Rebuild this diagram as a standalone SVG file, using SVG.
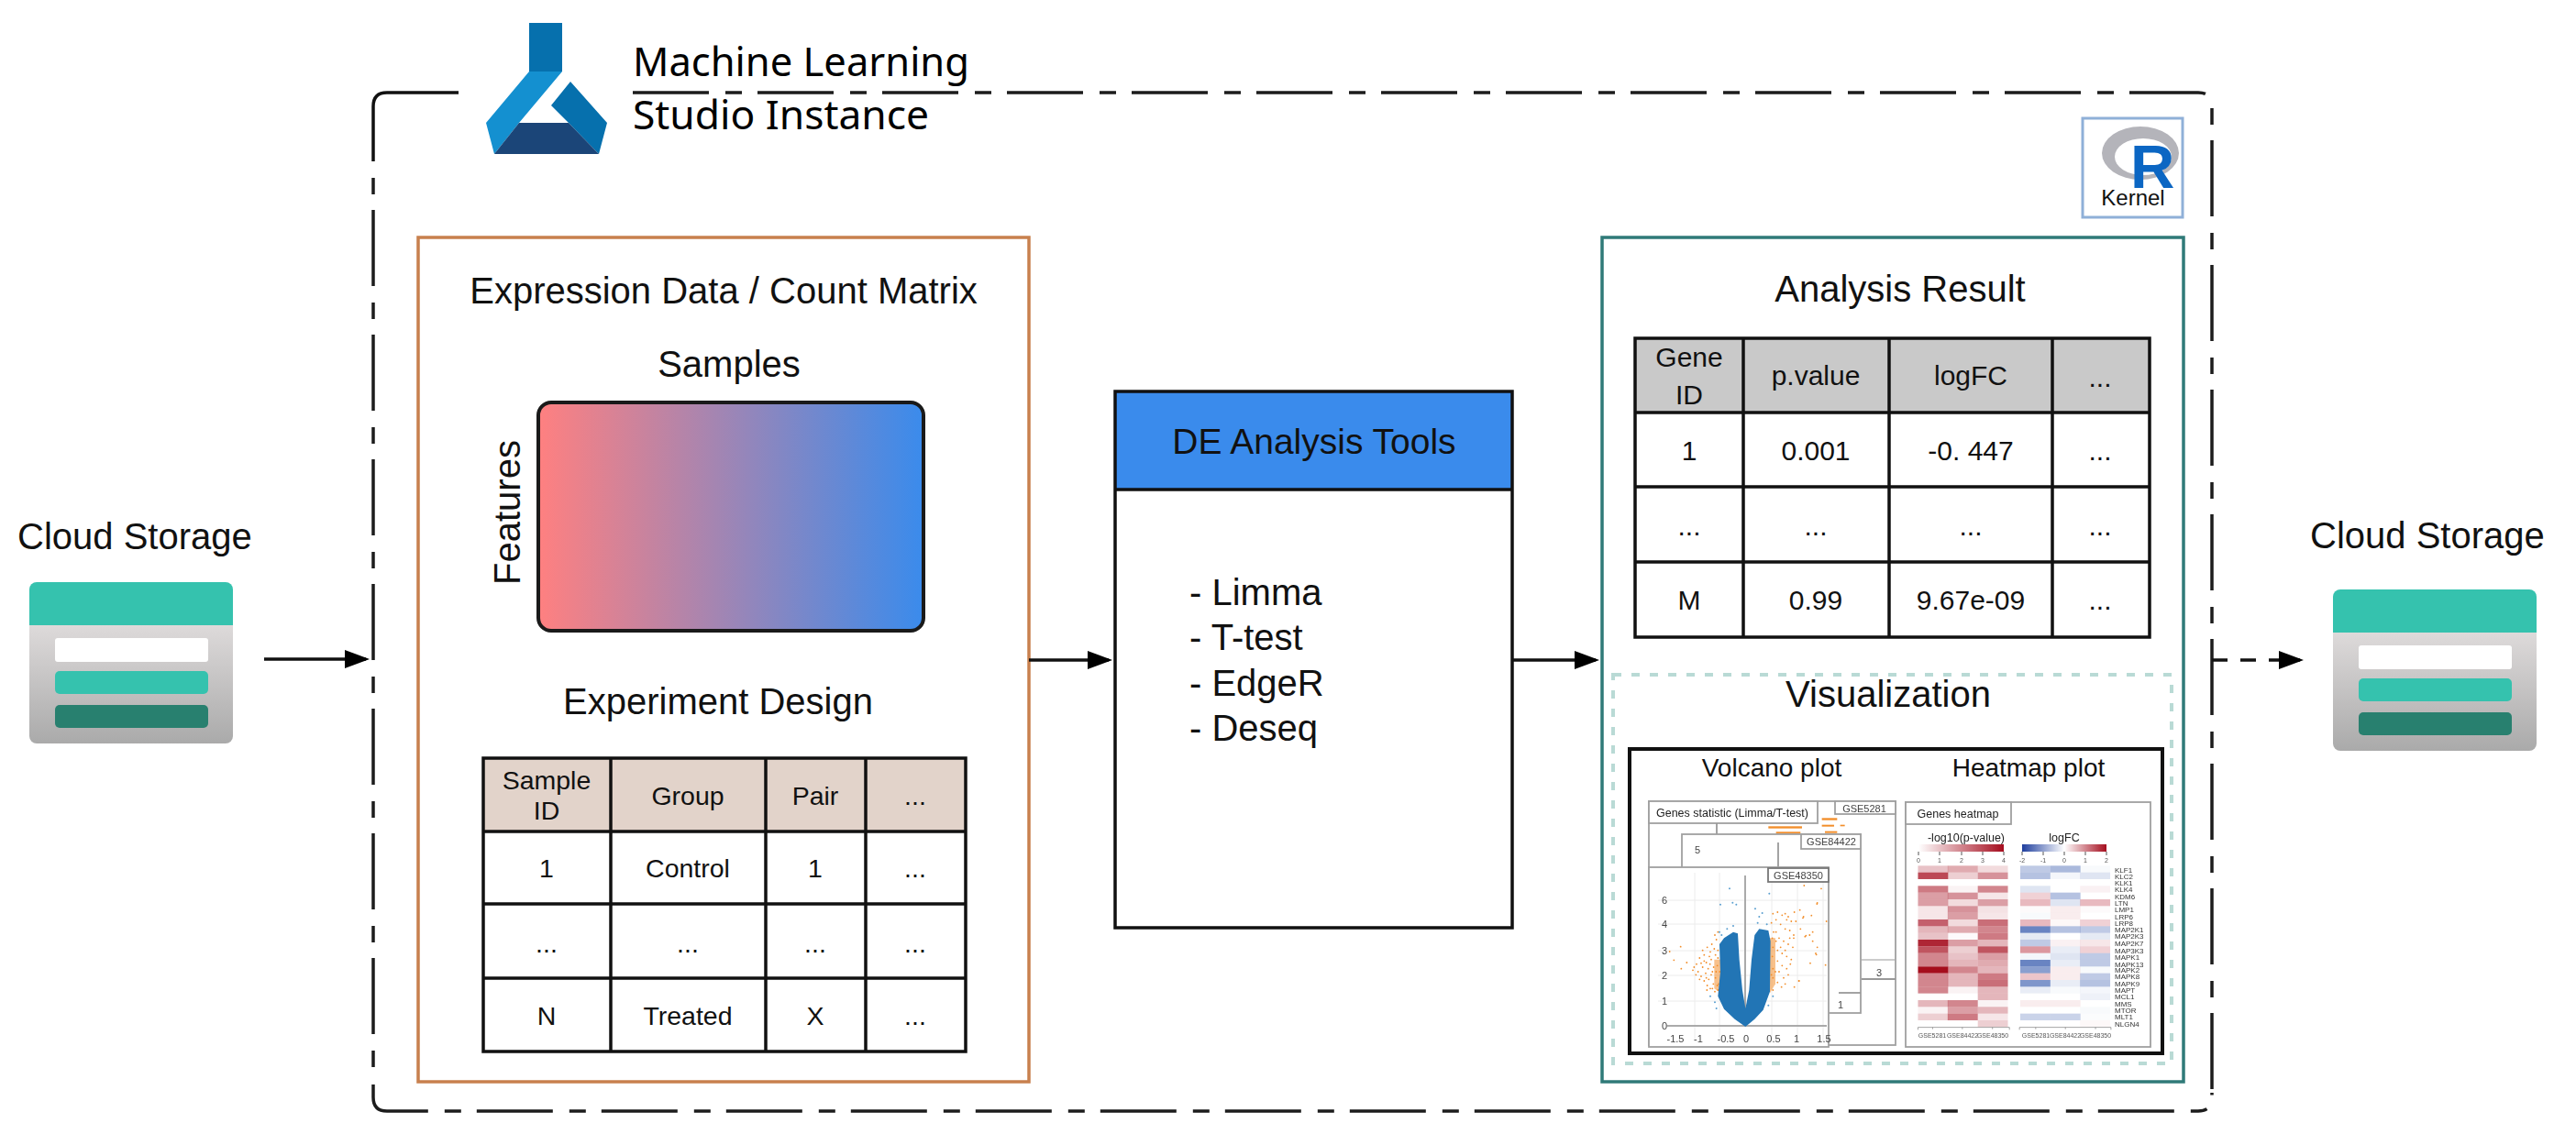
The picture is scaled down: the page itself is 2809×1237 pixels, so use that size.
<svg xmlns="http://www.w3.org/2000/svg" width="2809" height="1237" viewBox="0 0 2809 1237">
<style>
text{font-family:"Liberation Sans",Arial,sans-serif;fill:#111}
.h{font-size:40px}.c{text-anchor:middle}
.ml{font-family:"Noto Sans","Liberation Sans",sans-serif;font-size:43px;fill:#000}
.t1{font-size:28.5px;text-anchor:middle}.t2{font-size:30px;text-anchor:middle}
.g{stroke:#111;stroke-width:3.5;fill:none}
.dash{fill:none;stroke:#1c1c1c;stroke-width:3.5;stroke-dasharray:83 18 18 17}
.arr{stroke:#111;stroke-width:3.5;fill:none;marker-end:url(#ah)}
.pn{fill:#fff;stroke:#a0a0a0;stroke-width:1.8}
.s{font-size:11px;fill:#444;text-anchor:middle}
.tb{font-size:12.5px;fill:#222;text-anchor:middle}
.sm{font-size:7px;fill:#555;text-anchor:middle}
.lb{font-size:8px;fill:#333}
.hm rect{width:78px;height:22px}
.grid{stroke:#ececec;stroke-width:1}
.od{stroke:#f28e2b;stroke-width:5.5;stroke-linecap:round;fill:none}
</style>
<defs>
<marker id="ah" markerUnits="userSpaceOnUse" markerWidth="28" markerHeight="22" viewBox="0 0 28 22" refX="23" refY="11" orient="auto"><polygon points="0,1 27,11 0,21" fill="#000"/></marker>
<linearGradient id="grad"><stop offset="0" stop-color="#ff8080"/><stop offset="1" stop-color="#3a8bec"/></linearGradient>
<linearGradient id="body" x1="0" y1="0" x2="0" y2="1"><stop offset="0" stop-color="#eae6e6"/><stop offset="1" stop-color="#aaaaaa"/></linearGradient>
<linearGradient id="cb1"><stop offset="0" stop-color="#fff"/><stop offset="1" stop-color="#a50d1e"/></linearGradient>
<linearGradient id="cb2"><stop offset="0" stop-color="#1f3f9e"/><stop offset=".5" stop-color="#fff"/><stop offset="1" stop-color="#a50d1e"/></linearGradient>
<filter id="soft" x="-2%" y="-2%" width="104%" height="104%"><feGaussianBlur stdDeviation="0.7"/></filter>
<g id="store">
<rect x="32" y="650" width="222" height="161" rx="8" fill="url(#body)"/>
<path d="M32 682V643a8 8 0 0 1 8-8H246a8 8 0 0 1 8 8V682Z" fill="#35c2ae"/>
<rect x="60" y="696" width="167" height="26" rx="3" fill="#fff"/>
<rect x="60" y="732" width="167" height="25" rx="5" fill="#35c2ae"/>
<rect x="60" y="769" width="167" height="25" rx="5" fill="#28806f"/>
</g>
</defs>
<rect width="2809" height="1237" fill="#fff"/>

<g id="instance-frame">
<path class="g" d="M500 101H422Q407 101 407 116V176"/>
<path class="dash" d="M690 101H2397Q2412 101 2412 116"/>
<path class="dash" stroke-dashoffset="101" d="M2412 118V1190"/>
<path class="dash" stroke-dashoffset="101" d="M407 194V1165"/>
<path class="dash" d="M407 1183V1197Q407 1212 422 1212H2397Q2412 1212 2412 1197V1192"/>
</g>

<g id="ml-studio">
<polygon points="577,25 613,25 613,78 577,78" fill="#0670ad"/>
<polygon points="577,78 613,78 566,134 539,168 530,134" fill="#1490d0"/>
<polygon points="622,89 662,134 653,168 620,134 601,115" fill="#0670ad"/>
<polygon points="566,134 620,134 653,168 539,168" fill="#1b4578"/>
<text class="ml" x="690" y="83" textLength="367" lengthAdjust="spacingAndGlyphs">Machine Learning</text>
<text class="ml" x="690" y="141" textLength="323" lengthAdjust="spacingAndGlyphs">Studio Instance</text>
</g>

<g id="r-kernel">
<rect x="2271" y="129" width="109" height="108" fill="#fff" stroke="#8fb0d8" stroke-width="3"/>
<path fill-rule="evenodd" fill="#b4b4ba" d="M2292 167a42 29 0 1 0 84 0a42 29 0 1 0-84 0ZM2306 171a31 20 0 1 0 62 0a31 20 0 1 0-62 0Z"/>
<text x="2323" y="205" font-size="67" font-weight="700" style="fill:#0b66c3">R</text>
<text x="2326" y="224" font-size="24" class="c">Kernel</text>
</g>

<g id="storage-in">
<text class="h" x="19" y="599">Cloud Storage</text>
<use href="#store"/>
</g>
<g id="storage-out">
<text class="h" x="2519" y="598">Cloud Storage</text>
<use href="#store" x="2512" y="8"/>
</g>

<g id="expression-data">
<rect x="456" y="259" width="666" height="921" fill="#fff" stroke="#c8804e" stroke-width="3.5"/>
<text class="h c" x="789" y="331">Expression Data / Count Matrix</text>
<text class="h c" x="795" y="411">Samples</text>
<rect x="587" y="439" width="420" height="249" rx="14" fill="url(#grad)" stroke="#1a1a1a" stroke-width="4"/>
<text class="h c" transform="translate(567 559) rotate(-90)">Features</text>
<text class="h c" x="783" y="779">Experiment Design</text>
<rect x="527" y="827" width="526" height="80" fill="#e2d3ca"/>
<path class="g" d="M527 827H1053V1147H527ZM527 907H1053M527 986H1053M527 1067H1053M666 827V1147M835 827V1147M944 827V1147"/>
<text class="t1" x="596" y="861">Sample</text><text class="t1" x="596" y="894">ID</text>
<text class="t1" x="750" y="878">Group</text><text class="t1" x="889" y="878">Pair</text><text class="t1" x="998" y="878">...</text>
<text class="t1" x="596" y="957">1</text><text class="t1" x="750" y="957">Control</text><text class="t1" x="889" y="957">1</text><text class="t1" x="998" y="957">...</text>
<text class="t1" x="596" y="1039">...</text><text class="t1" x="750" y="1039">...</text><text class="t1" x="889" y="1039">...</text><text class="t1" x="998" y="1039">...</text>
<text class="t1" x="596" y="1118">N</text><text class="t1" x="750" y="1118">Treated</text><text class="t1" x="889" y="1118">X</text><text class="t1" x="998" y="1118">...</text>
</g>

<g id="de-tools">
<rect x="1216" y="427" width="433" height="585" fill="#fff"/>
<rect x="1216" y="427" width="433" height="107" fill="#3a8bec"/>
<path class="g" d="M1216 427H1649V1012H1216ZM1216 534H1649"/>
<text x="1433" y="495" font-size="39" class="c">DE Analysis Tools</text>
<text class="h" x="1297" y="660">- Limma</text>
<text class="h" x="1297" y="709">- T-test</text>
<text class="h" x="1297" y="759">- EdgeR</text>
<text class="h" x="1297" y="808">- Deseq</text>
</g>

<g id="analysis-result">
<rect x="1747" y="259" width="634" height="921" fill="#fff" stroke="#2f7a78" stroke-width="3.5"/>
<text class="h c" x="2072" y="329">Analysis Result</text>
<rect x="1783" y="369" width="561" height="81" fill="#c9c9c9"/>
<path class="g" d="M1783 369H2344V695H1783ZM1783 450H2344M1783 531H2344M1783 613H2344M1901 369V695M2060 369V695M2238 369V695"/>
<text class="t2" x="1842" y="400">Gene</text><text class="t2" x="1842" y="441">ID</text>
<text class="t2" x="1980" y="420">p.value</text><text class="t2" x="2149" y="420">logFC</text><text class="t2" x="2290" y="422">...</text>
<text class="t2" x="1842" y="502">1</text><text class="t2" x="1980" y="502">0.001</text><text class="t2" x="2149" y="502">-0. 447</text><text class="t2" x="2290" y="502">...</text>
<text class="t2" x="1842" y="584">...</text><text class="t2" x="1980" y="584">...</text><text class="t2" x="2149" y="584">...</text><text class="t2" x="2290" y="584">...</text>
<text class="t2" x="1842" y="665">M</text><text class="t2" x="1980" y="665">0.99</text><text class="t2" x="2149" y="665">9.67e-09</text><text class="t2" x="2290" y="665">...</text>
</g>

<g id="visualization">
<rect x="1759" y="736" width="609" height="424" fill="none" stroke="#b9dad5" stroke-width="4" stroke-dasharray="9 11"/>
<text class="h c" x="2059" y="771">Visualization</text>
<rect x="1777" y="817" width="581" height="332" fill="#fff" stroke="#111" stroke-width="4"/>
<text x="1932" y="847" font-size="28" class="c">Volcano plot</text>
<text x="2212" y="847" font-size="28" class="c">Heatmap plot</text>
<g id="volcano-plot" filter="url(#soft)">
<rect class="pn" x="1798" y="874" width="269" height="266"/>
<rect class="pn" x="2001" y="874" width="66" height="14"/>
<text class="s" x="2033" y="886">GSE5281</text>
<path d="M2030 1047H2066" stroke="#bbb" stroke-width="1.5"/>
<path d="M2030 1068H2067" stroke="#999" stroke-width="1.8"/>
<text class="s" x="2049" y="1065">3</text>
<g transform="translate(1790 860) scale(.3333)" fill="#f28e2b">
<rect x="590" y="97" width="50" height="7"/><rect x="590" y="119" width="40" height="6"/><rect x="650" y="119" width="15" height="5"/>
<rect x="415" y="124" width="110" height="7"/><rect x="440" y="142" width="80" height="6"/><rect x="600" y="140" width="40" height="6"/>
</g>
<rect class="pn" x="1798" y="874" width="184" height="24"/>
<text class="tb" x="1889" y="891">Genes statistic (Limma/T-test)</text>
<path d="M1872 898V910" stroke="#999" stroke-width="1.8"/>
<rect class="pn" x="1834" y="910" width="195" height="195"/>
<rect class="pn" x="1964" y="910" width="65" height="16"/>
<text class="s" x="1997" y="922">GSE84422</text>
<path d="M2005 1083H2029" stroke="#999" stroke-width="1.8"/>
<text class="s" x="2007" y="1100">1</text>
<text class="s" x="1851" y="931">5</text>
<path d="M1939 919V946" stroke="#999" stroke-width="1.8"/>
<rect class="pn" x="1798" y="946" width="196" height="196"/>
<path class="grid" d="M1848 952V1136M1875 952V1136M1932 952V1136M1960 952V1136M1988 952V1136M1808 982H1992M1808 1008H1992M1808 1037H1992M1808 1064H1992M1808 1092H1992"/>
<rect x="1928" y="947" width="66" height="15" fill="#fff" stroke="#777" stroke-width="1.8"/>
<text class="s" x="1961" y="959">GSE48350</text>
<path d="M1903 955V1120M1818 1119H1992" stroke="#aaa" stroke-width="2" fill="none"/>
<g transform="translate(1790 860) scale(.3333)">
<path class="od" d="M200 530h0M215 520h0M230 510h0M245 495h0M250 470h0M240 480h0M225 535h0M205 545h0M190 555h0M180 575h0M172 585h0M185 600h0M195 615h0M205 630h0M215 645h0M225 655h0M240 665h0M250 660h0M235 640h0M220 625h0M210 605h0M200 585h0M212 570h0M228 560h0M242 545h0M250 530h0M238 525h0M222 550h0M195 572h0M178 610h0M248 580h0M232 600h0M218 590h0M205 565h0M242 620h0M252 640h0M228 610h0M244 600h0M236 585h0M224 575h0M212 620h0M250 555h0M256 600h0M248 645h0M232 655h0M214 660h0M190 625h0M168 595h0"/>
<path class="od" d="M430 410h0M445 405h0M460 415h0M475 430h0M490 435h0M440 430h0M425 440h0M455 445h0M470 460h0M485 465h0M498 480h0M440 470h0M428 490h0M450 490h0M465 500h0M480 510h0M495 520h0M430 520h0M445 530h0M460 540h0M475 550h0M490 560h0M428 550h0M445 565h0M460 580h0M475 590h0M480 610h0M430 590h0M450 600h0M465 620h0M430 620h0M445 635h0M458 650h0M430 660h0M440 500h0M455 520h0M470 530h0M485 490h0M432 470h0M438 600h0M425 610h0M470 640h0M487 575h0M505 435h0M530 420h0M520 460h0M550 480h0M560 500h0M575 520h0M515 630h0M535 485h0M570 540h0M560 470h0M480 420h0M500 405h0M470 410h0"/>
<path d="M238 560H260V670L238 655Z" fill="#f28e2b" opacity=".55"/>
<path d="M418 490H438V640L420 670Z" fill="#f28e2b" opacity=".55"/>
<path class="od" d="M128 518h0M92 534h0M148 570h0M130 590h0M106 562h0M574 378h0M518 398h0M556 416h0M528 424h0M588 328h0M532 318h0M498 490h0M538 482h0M572 544h0M552 572h0M602 578h0M515 630h0M500 650h0M605 435h0M575 375h0"/>
<path d="M340 780L305 755 270 722 250 680 258 600 255 510 270 490 300 470 315 475 320 560 330 660 340 720 352 660 360 560 370 480 385 460 415 465 422 500 420 665 398 725 370 755Z" fill="#2275b5"/>
<path d="M288 328h0M258 380h0M298 374h0M310 380h0M418 344h0M372 394h0M395 408h0M385 420h0M255 470h0M262 480h0M280 460h0M300 450h0M380 440h0M410 445h0M240 700h0M225 680h0M245 720h0M430 680h0M415 710h0" stroke="#5a9fd0" stroke-width="6" stroke-linecap="round" fill="none"/>
</g>
<g class="s"><text class="s" x="1815" y="986">6</text><text class="s" x="1815" y="1012">4</text><text class="s" x="1815" y="1041">3</text><text class="s" x="1815" y="1068">2</text><text class="s" x="1815" y="1096">1</text><text class="s" x="1815" y="1123">0</text>
<text class="s" x="1827" y="1137">-1.5</text><text class="s" x="1852" y="1137">-1</text><text class="s" x="1882" y="1137">-0.5</text><text class="s" x="1904" y="1137">0</text><text class="s" x="1934" y="1137">0.5</text><text class="s" x="1959" y="1137">1</text><text class="s" x="1989" y="1137">1.5</text></g>
</g>
<g id="heatmap-plot" filter="url(#soft)">
<rect class="pn" x="2078" y="875" width="267" height="267"/>
<rect class="pn" x="2078" y="875" width="115" height="24"/>
<text class="tb" x="2135" y="892">Genes heatmap</text>
<text x="2144" y="918" class="tb">-log10(p-value)</text>
<text x="2251" y="918" class="tb">logFC</text>
<rect x="2092" y="921" width="93" height="8" fill="url(#cb1)"/>
<rect x="2205" y="921" width="92" height="8" fill="url(#cb2)"/>
<path d="M2092 929v4M2115 929v4M2139 929v4M2162 929v4M2185 929v4M2205 929v4M2228 929v4M2251 929v4M2274 929v4M2297 929v4" stroke="#555"/>
<g class="sm"><text class="sm" x="2092" y="941">0</text><text class="sm" x="2115" y="941">1</text><text class="sm" x="2139" y="941">2</text><text class="sm" x="2162" y="941">3</text><text class="sm" x="2185" y="941">4</text>
<text class="sm" x="2205" y="941">-2</text><text class="sm" x="2228" y="941">-1</text><text class="sm" x="2251" y="941">0</text><text class="sm" x="2274" y="941">1</text><text class="sm" x="2297" y="941">2</text></g>
<g transform="translate(1740 800) scale(.4209 .3333)" class="hm">
<g fill="#a50d1e">
<rect x="835" y="433" fill-opacity=".25"/><rect x="912" y="433" fill-opacity=".35"/><rect x="990" y="433" fill-opacity=".15"/>
<rect x="835" y="455" fill-opacity=".75"/><rect x="912" y="455" fill-opacity=".2"/><rect x="990" y="455" fill-opacity=".45"/>
<rect x="835" y="499" fill-opacity=".55"/><rect x="912" y="499" fill-opacity=".05"/><rect x="990" y="499" fill-opacity=".5"/>
<rect x="835" y="521" fill-opacity=".4"/><rect x="912" y="521" fill-opacity=".45"/><rect x="990" y="521" fill-opacity=".1"/>
<rect x="835" y="543" fill-opacity=".4"/><rect x="912" y="543" fill-opacity=".15"/><rect x="990" y="543" fill-opacity=".4"/>
<rect x="835" y="565" fill-opacity=".1"/><rect x="912" y="565" fill-opacity=".45"/><rect x="990" y="565" fill-opacity=".12"/>
<rect x="835" y="587" fill-opacity=".1"/><rect x="912" y="587" fill-opacity=".4"/><rect x="990" y="587" fill-opacity=".1"/>
<rect x="835" y="609" fill-opacity=".65"/><rect x="912" y="609" fill-opacity=".15"/><rect x="990" y="609" fill-opacity=".6"/>
<rect x="835" y="631" fill-opacity=".3"/><rect x="912" y="631" fill-opacity=".35"/><rect x="990" y="631" fill-opacity=".5"/>
<rect x="835" y="653" fill-opacity=".25"/><rect x="912" y="653" fill-opacity=".02"/><rect x="990" y="653" fill-opacity=".55"/>
<rect x="835" y="675" fill-opacity=".9"/><rect x="912" y="675" fill-opacity=".4"/><rect x="990" y="675" fill-opacity=".3"/>
<rect x="835" y="697" fill-opacity=".7"/><rect x="912" y="697" fill-opacity=".2"/><rect x="990" y="697" fill-opacity=".7"/>
<rect x="835" y="719" fill-opacity=".5"/><rect x="912" y="719" fill-opacity=".25"/><rect x="990" y="719" fill-opacity=".4"/>
<rect x="835" y="741" fill-opacity=".5"/><rect x="912" y="741" fill-opacity=".3"/><rect x="990" y="741" fill-opacity=".35"/>
<rect x="835" y="763" fill-opacity="1"/><rect x="912" y="763" fill-opacity=".5"/><rect x="990" y="763" fill-opacity=".3"/>
<rect x="835" y="785" fill-opacity=".5"/><rect x="912" y="785" fill-opacity=".3"/><rect x="990" y="785" fill-opacity=".55"/>
<rect x="835" y="807" fill-opacity=".5"/><rect x="912" y="807" fill-opacity=".3"/><rect x="990" y="807" fill-opacity=".6"/>
<rect x="835" y="829" fill-opacity=".5"/><rect x="912" y="829" fill-opacity=".05"/><rect x="990" y="829" fill-opacity=".3"/>
<rect x="990" y="851" fill-opacity=".3"/>
<rect x="835" y="873" fill-opacity=".3"/><rect x="912" y="873" fill-opacity=".5"/><rect x="990" y="873" fill-opacity=".05"/>
<rect x="835" y="895" fill-opacity=".05"/><rect x="912" y="895" fill-opacity=".4"/><rect x="990" y="895" fill-opacity=".3"/>
<rect x="835" y="917" fill-opacity=".2"/><rect x="912" y="917" fill-opacity=".55"/><rect x="990" y="917" fill-opacity=".1"/>
<rect x="990" y="939" fill-opacity=".2"/>
</g>
<g fill="#2a50a8">
<rect x="1100" y="433" fill-opacity=".3"/><rect x="1178" y="433" fill-opacity=".4"/><rect x="1255" y="433" fill-opacity=".03"/>
<rect x="1100" y="455" fill-opacity=".35"/><rect x="1178" y="455" fill-opacity=".05"/><rect x="1255" y="455" fill-opacity=".15"/>
<rect x="1100" y="499" fill-opacity=".15"/>
<rect x="1178" y="521" fill-opacity=".35"/>
<rect x="1178" y="543" fill-opacity=".15"/>
<rect x="1100" y="587" fill-opacity=".03"/>
<rect x="1100" y="631" fill-opacity=".7"/><rect x="1178" y="631" fill-opacity=".35"/><rect x="1255" y="631" fill-opacity=".3"/>
<rect x="1100" y="653" fill-opacity=".12"/><rect x="1255" y="653" fill-opacity=".12"/>
<rect x="1100" y="675" fill-opacity=".3"/>
<rect x="1178" y="697" fill-opacity=".1"/>
<rect x="1100" y="719" fill-opacity=".05"/><rect x="1178" y="719" fill-opacity=".15"/><rect x="1255" y="719" fill-opacity=".3"/>
<rect x="1100" y="741" fill-opacity=".7"/><rect x="1178" y="741" fill-opacity=".1"/><rect x="1255" y="741" fill-opacity=".3"/>
<rect x="1100" y="763" fill-opacity=".55"/><rect x="1255" y="763" fill-opacity=".03"/>
<rect x="1255" y="785" fill-opacity=".3"/>
<rect x="1100" y="807" fill-opacity=".6"/><rect x="1178" y="807" fill-opacity=".1"/><rect x="1255" y="807" fill-opacity=".35"/>
<rect x="1100" y="829" fill-opacity=".1"/><rect x="1178" y="829" fill-opacity=".03"/><rect x="1255" y="829" fill-opacity=".05"/>
<rect x="1255" y="851" fill-opacity=".08"/>
<rect x="1255" y="895" fill-opacity=".03"/>
<rect x="1100" y="917" fill-opacity=".25"/><rect x="1178" y="917" fill-opacity=".25"/><rect x="1255" y="917" fill-opacity=".02"/>
</g>
<g fill="#b2182b">
<rect x="1255" y="499" fill-opacity=".06"/>
<rect x="1100" y="521" fill-opacity=".2"/>
<rect x="1100" y="543" fill-opacity=".3"/><rect x="1255" y="543" fill-opacity=".3"/>
<rect x="1100" y="565" fill-opacity=".02"/><rect x="1178" y="565" fill-opacity=".08"/><rect x="1255" y="565" fill-opacity=".02"/>
<rect x="1178" y="587" fill-opacity=".08"/>
<rect x="1100" y="609" fill-opacity=".3"/><rect x="1178" y="609" fill-opacity=".03"/><rect x="1255" y="609" fill-opacity=".2"/>
<rect x="1178" y="675" fill-opacity=".06"/><rect x="1255" y="675" fill-opacity=".1"/>
<rect x="1100" y="697" fill-opacity=".45"/><rect x="1255" y="697" fill-opacity=".2"/>
<rect x="1178" y="763" fill-opacity=".08"/>
<rect x="1100" y="785" fill-opacity=".25"/><rect x="1178" y="785" fill-opacity=".08"/>
<rect x="1100" y="873" fill-opacity=".08"/><rect x="1178" y="873" fill-opacity=".08"/>
<rect x="1255" y="939" fill-opacity=".03"/>
</g>
<path d="M835 970V962H1072V970M873 962v6M950 962v6M1028 962v6M1098 970V962H1335V970M1140 962v6M1217 962v6M1295 962v6" stroke="#888" stroke-width="2" fill="none"/>
</g>
<text class="sm" x="2107" y="1132">GSE5281</text><text class="sm" x="2140" y="1132">GSE84422</text><text class="sm" x="2173" y="1132">GSE48350</text>
<text class="sm" x="2220" y="1132">GSE5281</text><text class="sm" x="2252" y="1132">GSE84422</text><text class="sm" x="2285" y="1132">GSE48350</text>
<g class="lb">
<text class="lb" x="2306" y="952">KLF1</text><text class="lb" x="2306" y="959">KLC2</text><text class="lb" x="2306" y="966">KLK1</text><text class="lb" x="2306" y="973">KLK4</text><text class="lb" x="2306" y="981">KDM6</text><text class="lb" x="2306" y="988">LTN</text><text class="lb" x="2306" y="995">LMP1</text><text class="lb" x="2306" y="1003">LRP6</text><text class="lb" x="2306" y="1010">LRP8</text><text class="lb" x="2306" y="1017">MAP2K1</text><text class="lb" x="2306" y="1024">MAP2K3</text><text class="lb" x="2306" y="1032">MAP2K7</text><text class="lb" x="2306" y="1040">MAP3K3</text><text class="lb" x="2306" y="1047">MAPK1</text><text class="lb" x="2306" y="1055">MAPK13</text><text class="lb" x="2306" y="1061">MAPK2</text><text class="lb" x="2306" y="1068">MAPK8</text><text class="lb" x="2306" y="1076">MAPK9</text><text class="lb" x="2306" y="1083">MAPT</text><text class="lb" x="2306" y="1090">MCL1</text><text class="lb" x="2306" y="1098">MMS</text><text class="lb" x="2306" y="1105">MTOR</text><text class="lb" x="2306" y="1112">MLT1</text><text class="lb" x="2306" y="1120">NLGN4</text>
</g>
</g>
</g>

<g id="connectors">
<line class="arr" x1="288" y1="719" x2="399" y2="719"/>
<line class="arr" x1="1122" y1="720" x2="1209" y2="720"/>
<line class="arr" x1="1649" y1="720" x2="1740" y2="720"/>
<line class="arr" stroke-dasharray="17 14" x1="2412" y1="720" x2="2508" y2="720"/>
</g>
</svg>
